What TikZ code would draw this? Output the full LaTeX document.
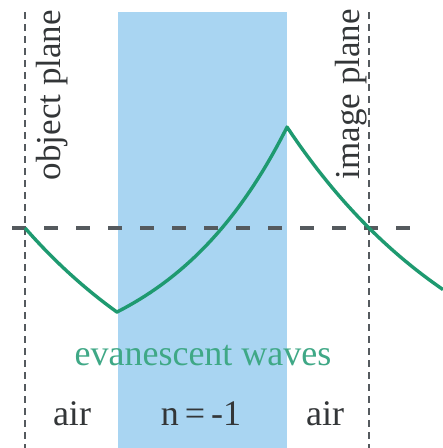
\documentclass[tikz,border=0pt]{standalone}
\usepackage{fontspec}
\usepackage{graphicx}
\setmainfont{Liberation Serif}
\definecolor{slab}{HTML}{A9D5F2}
\definecolor{wave}{HTML}{1E9A70}
\definecolor{wavetext}{HTML}{3FA886}
\definecolor{dashgray}{HTML}{555A5E}
\definecolor{txt}{HTML}{333638}
\begin{document}
\begin{tikzpicture}[x=1pt,y=1pt,
  planedash/.style={fill=dashgray},
  axisline/.style={dashgray, line width=3.6pt, dash pattern=on 14pt off 18pt},
  wavecurve/.style={wave, line width=3.4pt, line join=round},
  lbl/.style={inner sep=0pt, txt, font=\fontsize{36}{40}\selectfont},
  plbl/.style={inner sep=0pt, txt, font=\fontsize{35}{40}\selectfont},
]
\useasboundingbox (0,-448) rectangle (443,0);
\fill[white] (0,-448) rectangle (443,0);
\fill[slab] (118,-448) rectangle (287,-12);
\coordinate (objtop) at (25,-12);
\coordinate (imgtop) at (369,-12);
\coordinate (axl) at (12,-228);
\coordinate (axr) at (424,-228);
\foreach \k in {0,...,36}{
  \fill[planedash] ([shift={(-1.4,-12*\k)}]objtop) rectangle ++(2.8,-7);
  \fill[planedash] ([shift={(-1.4,-12*\k)}]imgtop) rectangle ++(2.8,-7);
}
\draw[axisline] (axl) -- (axr);
\draw[wavecurve]
  plot[domain=25:117, samples=40, smooth] (\x, {-228 - 228*(1-exp(-0.005*(\x-25)))})
  -- plot[domain=117:287, samples=60, smooth] (\x, {-312 + 63.9*(exp(0.008*(\x-117))-1)})
  -- plot[domain=287:443, samples=60, smooth] (\x, {-127 - 300*(1-exp(-0.005*(\x-287)))});
\node[plbl] (objlabel) at (52,-95) {\rotatebox{90}{object plane}};
\node[plbl] (imglabel) at (351,-94) {\rotatebox{90}{image plane}};
\node[lbl, text=wavetext] (evan) at (203,-356) {evanescent waves};
\node[lbl] (airl) at (72,-414) {air};
\node[lbl] (nlabel) at (201,-414) {n\,=\,-1};
\node[lbl] (airr) at (325,-414) {air};
\end{tikzpicture}
\end{document}
